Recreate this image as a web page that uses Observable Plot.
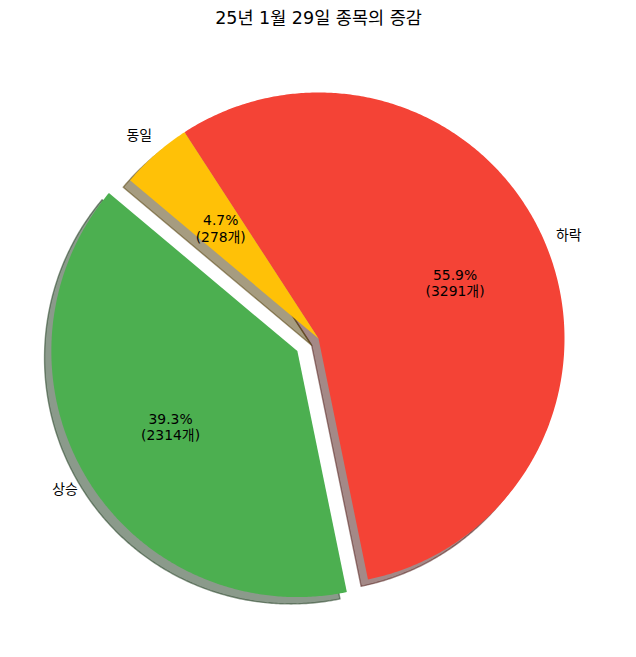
<!DOCTYPE html>
<html><head><meta charset="utf-8">
<script src="https://cdn.jsdelivr.net/npm/d3@7"></script>
<script src="https://cdn.jsdelivr.net/npm/@observablehq/plot@0.6"></script>
<style>html,body{margin:0;padding:0;background:#fff}</style>
</head><body><div id="chart"></div>
<script>
const title = "25년 1월 29일 종목의 증감";
const labels = ["상승", "하락", "동일"];
const counts = [2314, 3291, 278];
const colors = ["#4CAF50", "#F44336", "#FFC107"];
const explode = [0.1, 0, 0];
const startAngle = 140;

const W = 636, H = 657, R = 246, CX = 318, CY = 338;
const total = d3.sum(counts);
let acc = 0;
const slices = labels.map((label, i) => {
  const frac = counts[i] / total;
  const a0 = startAngle + acc * 360; acc += frac;
  const a1 = startAngle + acc * 360;
  const mid = (a0 + a1) / 2 * Math.PI / 180;
  const ex = explode[i];
  return {label, count: counts[i], frac, a0, a1, mid,
          ox: ex * Math.cos(mid), oy: ex * Math.sin(mid), color: colors[i]};
});
function wedgePts(s, dx, dy) {
  const pts = [{x: s.ox + dx, y: s.oy + dy}];
  const n = Math.max(2, Math.ceil((s.a1 - s.a0) / 0.5));
  for (let k = 0; k <= n; k++) {
    const a = (s.a0 + (s.a1 - s.a0) * k / n) * Math.PI / 180;
    pts.push({x: s.ox + dx + Math.cos(a), y: s.oy + dy + Math.sin(a)});
  }
  return pts;
}
const shOff = 0.02 * 100 / 72;
const shadowMarks = slices.map(s => {
  const c = d3.rgb(s.color);
  const sc = d3.rgb(c.r * 0.3, c.g * 0.3, c.b * 0.3).formatHex();
  return Plot.line(wedgePts(s, -shOff, -shOff), {x: "x", y: "y", curve: "linear-closed",
    fill: sc, fillOpacity: 0.5, stroke: sc, strokeOpacity: 0.5, strokeWidth: 1.4});
});
const wedgeMarks = slices.map(s =>
  Plot.line(wedgePts(s, 0, 0), {x: "x", y: "y", curve: "linear-closed",
    fill: s.color, stroke: "none"}));

const labelData = slices.map(s => ({
  text: s.label,
  x: s.ox + 1.1 * Math.cos(s.mid),
  y: s.oy + 1.1 * Math.sin(s.mid)
}));
const pctData = slices.map(s => ({
  text: `${(s.frac * 100).toFixed(1)}%\n(${s.count}개)`,
  x: s.ox + 0.6 * Math.cos(s.mid),
  y: s.oy + 0.6 * Math.sin(s.mid)
}));

const chart = Plot.plot({
  width: W, height: H, margin: 0,
  x: {domain: [-CX / R, (W - CX) / R], axis: null},
  y: {domain: [-(H - CY) / R, CY / R], axis: null},
  style: {fontFamily: "'DejaVu Sans', 'Noto Sans CJK KR', sans-serif", background: "#fff", color: "#000"},
  marks: [
    ...shadowMarks,
    ...wedgeMarks,
    Plot.text(labelData, {x: "x", y: "y", text: "text", fontSize: 13.9, fill: "#000",
      textAnchor: d => d.x > 0 ? "start" : "end"}),
    Plot.text(pctData, {x: "x", y: "y", text: "text", fontSize: 13.9, fill: "#000",
      lineHeight: 1.2, textAnchor: "middle"}),
    Plot.text([title], {frameAnchor: "top", dy: 18, lineAnchor: "middle", fontSize: 17.5, fill: "#000"})
  ]
});
document.getElementById("chart").appendChild(chart);
</script>
</body></html>
